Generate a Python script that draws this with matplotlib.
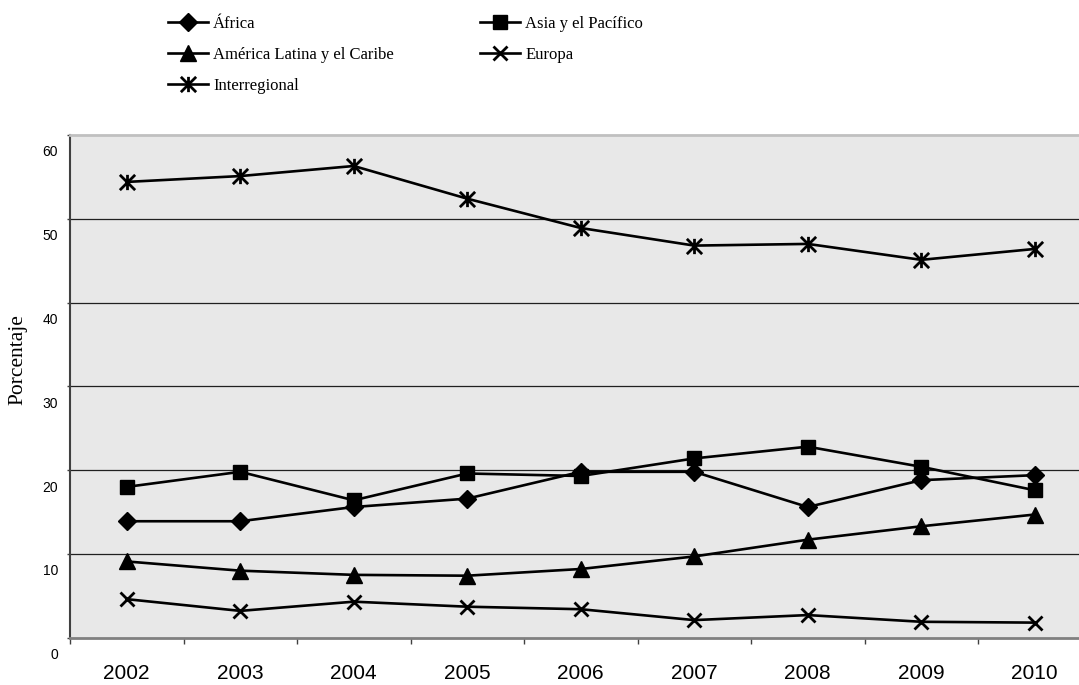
import numpy as np
import matplotlib
matplotlib.use("Agg")
import matplotlib.pyplot as plt
from matplotlib.path import Path
from matplotlib.transforms import ScaledTranslation

years = ['2002', '2003', '2004', '2005', '2006', '2007', '2008', '2009', '2010']
africa = [13.9, 13.9, 15.6, 16.6, 19.8, 19.8, 15.6, 18.8, 19.4]
asia = [18.0, 19.8, 16.4, 19.6, 19.3, 21.4, 22.8, 20.4, 17.6]
america_latina = [9.1, 8.0, 7.5, 7.4, 8.2, 9.7, 11.7, 13.3, 14.7]
europa = [4.6, 3.2, 4.3, 3.7, 3.4, 2.1, 2.7, 1.9, 1.8]
interregional = [54.4, 55.1, 56.3, 52.4, 48.9, 46.8, 47.0, 45.1, 46.4]
yticks = [0, 10, 20, 30, 40, 50, 60]

# star marker like Excel: x plus vertical bar
star = Path([(-1, -1), (1, 1), (-1, 1), (1, -1), (0, -1), (0, 1)],
            [Path.MOVETO, Path.LINETO, Path.MOVETO, Path.LINETO, Path.MOVETO, Path.LINETO])

fig = plt.figure(figsize=(10.79, 6.85), dpi=100)
ax = fig.add_axes([70 / 1079, 47.3 / 685, 1021.5 / 1079, 502.7 / 685])
ax.set_facecolor('#e8e8e8')

x = np.arange(len(years))
lw = 1.9
l1, = ax.plot(x, africa, color='black', lw=lw, marker='D', ms=9, label='África')
l2, = ax.plot(x, asia, color='black', lw=lw, marker='s', ms=10.5, label='Asia y el Pacífico')
l3, = ax.plot(x, america_latina, color='black', lw=lw, marker='^', ms=11, label='América Latina y el Caribe')
l4, = ax.plot(x, europa, color='black', lw=lw, marker='x', ms=10, mew=2, label='Europa')
l5, = ax.plot(x, interregional, color='black', lw=lw, marker=star, ms=11, mew=2, label='Interregional')

ax.set_xlim(-0.5, len(years) - 0.5)
ax.set_ylim(0, 60)
ax.set_yticks(yticks)
ax.set_yticklabels([str(v) for v in yticks], fontsize=10, family='Liberation Sans')
ax.tick_params(axis='y', direction='out', length=2.2, width=1, pad=6.5, color='#404040')
# labels sit a bit below their gridline, as in the original
for lab in ax.get_yticklabels():
    lab.set_transform(lab.get_transform() + ScaledTranslation(0, -0.16, fig.dpi_scale_trans))

ax.set_xticks(x)
ax.set_xticklabels(years, fontsize=15, family='Liberation Sans')
ax.set_xticks(np.arange(-0.5, len(years)), minor=True)
ax.tick_params(axis='x', which='major', length=0, pad=19)
ax.tick_params(axis='x', which='minor', direction='out', length=4.3, width=1, color='#404040')

for v in yticks[1:-1]:
    ax.axhline(v, color='#202020', lw=0.9, zorder=1)

ax.spines['left'].set_color('#404040')
ax.spines['left'].set_linewidth(1.5)
ax.spines['bottom'].set_color('#808080')
ax.spines['bottom'].set_linewidth(2)
ax.spines['top'].set_color('#c0c0c0')
ax.spines['top'].set_linewidth(2)
ax.spines['right'].set_visible(False)

fig.text(18 / 1079, 1 - 360 / 685, 'Porcentaje', rotation=90, ha='center', va='center',
         fontsize=15.5, family='Liberation Serif')

fig.legend([l1, l3, l5, l2, l4],
           ['África', 'América Latina y el Caribe', 'Interregional', 'Asia y el Pacífico', 'Europa'],
           loc='upper left', bbox_to_anchor=(168 / 1079, 1 - 16 / 685), ncol=2, frameon=False,
           prop={'family': 'Liberation Serif', 'size': 12}, handlelength=2.4, handletextpad=0.3,
           columnspacing=5.2, labelspacing=0.9, borderpad=0, borderaxespad=0)

fig.savefig('out.png', dpi=100)
